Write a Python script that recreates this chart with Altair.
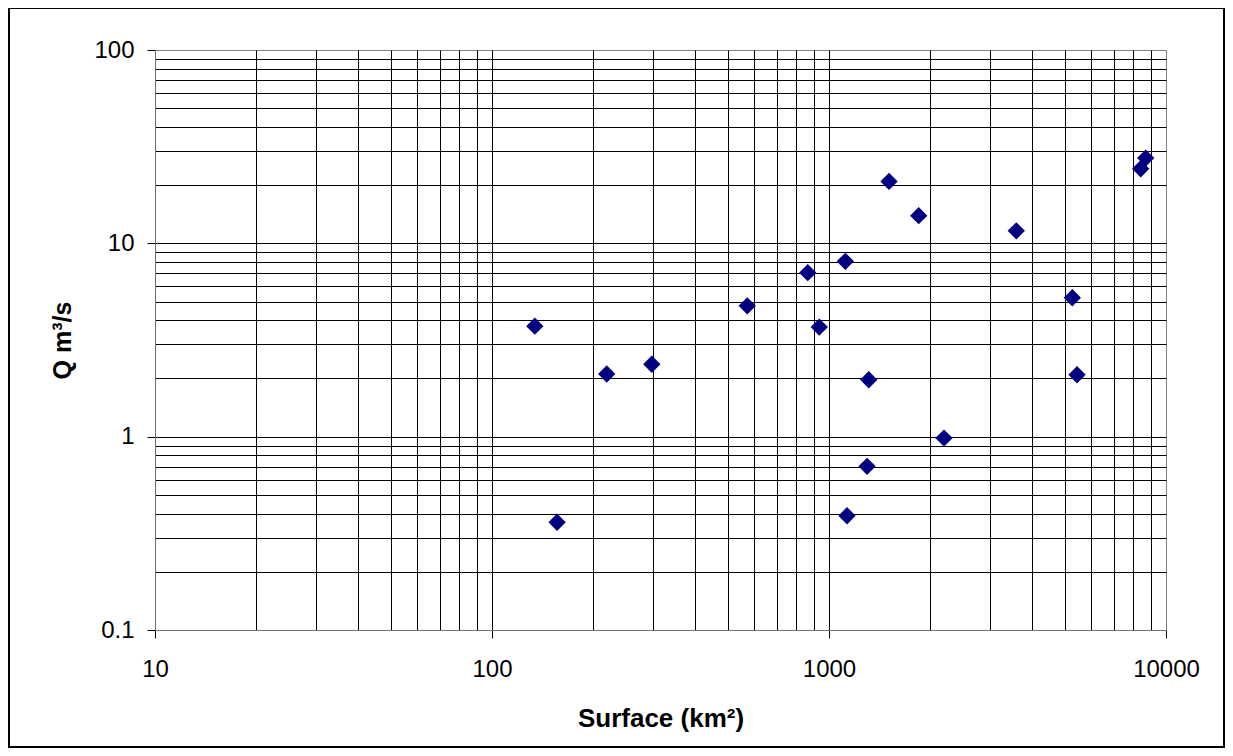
import altair as alt
import pandas as pd

# Data
surface_km2 = [134, 156, 219, 298, 572, 865, 936, 1118, 1131, 1297, 1312,
               1507, 1846, 2194, 3596, 5272, 5445, 8413, 8707]
q_m3s = [3.73, 0.361, 2.11, 2.37, 4.75, 7.05, 3.69, 8.07, 0.390, 0.702, 1.97,
         20.9, 13.9, 0.983, 11.6, 5.23, 2.09, 24.3, 27.6]

x_major = [10, 100, 1000, 10000]
y_major = [0.1, 1, 10, 100]
x_grid = [m * d for d in [10, 100, 1000] for m in range(1, 10)] + [10000]
y_grid = [round(m * d, 3) for d in [0.1, 1, 10] for m in range(1, 10)] + [100]

df = pd.DataFrame({"surface": surface_km2, "q": q_m3s})

W, H = 1011, 580
PAD = {"left": 147, "top": 42, "right": 59, "bottom": 118}

FONT = "Liberation Sans"


def major_test(majors):
    return "indexof([" + ",".join(str(v) for v in majors) + "], datum.value) >= 0"


x_axis = alt.Axis(
    values=x_grid,
    format="d",
    labelExpr=major_test(x_major) + " ? datum.label : ''",
    labelOverlap=False,
    labelFlush=False,
    labelFont=FONT,
    labelFontSize=24,
    labelColor="#000",
    labelPadding=19,
    tickSize=8,
    tickColor="#000",
    tickOpacity={"condition": {"test": major_test(x_major), "value": 1}, "value": 0},
    grid=True,
    gridColor="#000",
    gridWidth=1,
    gridOpacity={"condition": {"test": major_test([10, 10000]), "value": 0}, "value": 1},
    domainColor="#707070",
    domainWidth=1,
    title="Surface (km²)",
    titleFont=FONT,
    titleFontSize=26,
    titleFontWeight="bold",
    titleColor="#000",
    titleBaseline="middle",
    titleY=88,
)

y_axis = alt.Axis(
    values=y_grid,
    format="~g",
    labelExpr=major_test(y_major) + " ? datum.label : ''",
    labelOverlap=False,
    labelFlush=False,
    labelFont=FONT,
    labelFontSize=24,
    labelColor="#000",
    labelPadding=13,
    tickSize=8,
    tickColor="#000",
    tickOpacity={"condition": {"test": major_test(y_major), "value": 1}, "value": 0},
    grid=True,
    gridColor="#000",
    gridWidth=1,
    gridOpacity={"condition": {"test": major_test([0.1, 100]), "value": 0}, "value": 1},
    domainColor="#707070",
    domainWidth=1,
    title="Q m³/s",
    titleFont=FONT,
    titleFontSize=25,
    titleFontWeight="bold",
    titleColor="#000",
    titleBaseline="middle",
    titleX=-93,
)

frame = alt.Chart(pd.DataFrame({"k": [0]})).mark_rect(
    fill=None, stroke="#000", strokeWidth=2
).encode(
    x=alt.value(-146), x2=alt.value(1069),
    y=alt.value(-42), y2=alt.value(697),
)

points = alt.Chart(df).mark_point(
    shape="diamond", filled=True, color="#000080", size=300, opacity=1
).encode(
    x=alt.X("surface:Q", scale=alt.Scale(type="log", domain=[10, 10000], nice=False), axis=x_axis),
    y=alt.Y("q:Q", scale=alt.Scale(type="log", domain=[0.1, 100], nice=False), axis=y_axis),
)

chart = alt.layer(frame, points).properties(
    width=W, height=H,
    autosize=alt.AutoSizeParams(type="none"),
    padding=PAD,
    background="#ffffff",
).configure_view(stroke="#808080", strokeWidth=1)

chart.save("out.html", embed_options={"renderer": "svg", "actions": False})
